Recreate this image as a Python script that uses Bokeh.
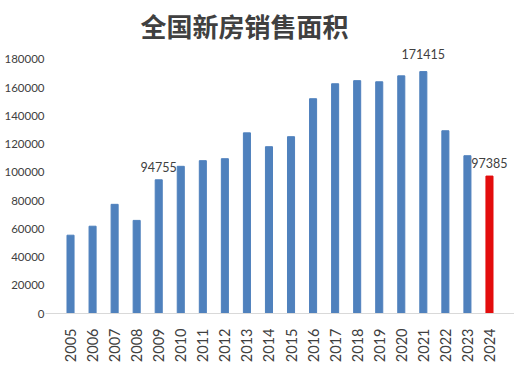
from bokeh.plotting import figure
from bokeh.models import ColumnDataSource, FactorRange, FixedTicker, Label, LabelSet
from bokeh.core.properties import value
from bokeh.embed import file_html
from bokeh.resources import INLINE
import math

years = [str(y) for y in range(2005, 2025)]
area = [55486, 61857, 77355, 65970, 94755, 104300, 108300, 109700, 128000, 118200,
        125300, 152200, 162800, 165000, 164200, 168400, 171415, 129500, 111800, 97385]
colors = ["#4f81bd"] * 19 + ["#e30d0d"]
label_years = ["2009", "2021", "2024"]
title_text = "全国新房销售面积"
y_ticks = list(range(0, 180001, 20000))

W, H = 514, 368
BOTTOM = 55
LEFT = 45
p = figure(width=W, height=H,
           x_range=FactorRange(*years, range_padding=0.635, range_padding_units="absolute"),
           y_range=(0, 221800), output_backend="svg", toolbar_location=None,
           min_border_left=LEFT, min_border_right=0, min_border_top=0,
           min_border_bottom=BOTTOM)
p.outline_line_color = None
p.xgrid.grid_line_color = None
p.ygrid.grid_line_color = None
p.background_fill_color = "white"

src = ColumnDataSource(dict(x=years, top=area, color=colors))
p.vbar(x="x", top="top", width=0.32, color="color", source=src)

lab = ColumnDataSource(dict(x=label_years,
                            y=[area[years.index(y)] for y in label_years],
                            t=[str(area[years.index(y)]) for y in label_years],
                            off=[8, 13, 8]))
p.add_layout(LabelSet(x="x", y="y", text="t", y_offset="off", source=lab,
                      text_align="center", text_baseline="bottom",
                      text_font=value("Lato"), text_font_size=value("12.5px"),
                      text_color=value("#404040")))

p.yaxis.ticker = FixedTicker(ticks=y_ticks)
p.yaxis.axis_line_color = None
p.yaxis.major_tick_line_color = None
p.yaxis.minor_tick_line_color = None
p.yaxis.major_label_text_font = "Lato"
p.yaxis.major_label_text_font_size = "11.5px"
p.yaxis.major_label_text_color = "#404040"
p.yaxis.major_label_standoff = -5
p.yaxis.formatter.use_scientific = False

p.xaxis.axis_line_color = "#d9d9d9"
p.xaxis.major_tick_line_color = None
p.xaxis.major_label_orientation = math.pi / 2
p.xaxis.major_label_text_font = "Lato"
p.xaxis.major_label_text_font_size = "14.5px"
p.xaxis.major_label_text_color = "#404040"
p.xaxis.major_label_standoff = 9

p.add_layout(Label(x=244 - LEFT, y=204000, x_units="screen", y_units="data",
                   text=title_text, text_align="center", text_baseline="middle",
                   text_font="Noto Sans CJK SC", text_font_style="bold",
                   text_font_size="26px", text_color="#404040"))

open("out.html", "w").write(file_html(p, INLINE))
